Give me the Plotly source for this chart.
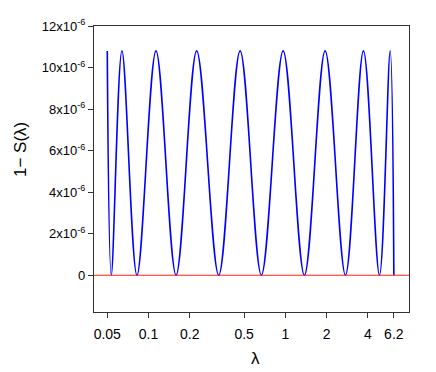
import numpy as np
import plotly.graph_objects as go

# values (extremes of 1 - S(lambda))
lam = [0.05, 0.0535, 0.064, 0.0824, 0.1135, 0.159, 0.225, 0.326, 0.467,
       0.668, 0.963, 1.377, 1.951, 2.747, 3.717, 4.867, 5.83, 6.2]
one_minus_s = [10.8e-6, 0, 10.8e-6, 0, 10.8e-6, 0, 10.8e-6, 0, 10.8e-6,
               0, 10.8e-6, 0, 10.8e-6, 0, 10.8e-6, 0, 10.8e-6, 0]

x_ticks = [0.05, 0.1, 0.2, 0.5, 1, 2, 4, 6.2]
x_labels = ['0.05', '0.1', '0.2', '0.5', '1', '2', '4', '6.2']
y_ticks = [0, 2e-6, 4e-6, 6e-6, 8e-6, 10e-6, 12e-6]
y_labels = ['0'] + ['%dx10<sup>-6</sup>' % v for v in [2, 4, 6, 8, 10, 12]]

# the page body has an 8px margin, so the figure is a bit smaller than the window
W, H = 428, 364
L, R, T, B = 86, 27, 18, 60
pw, ph = W - L - R, H - T - B

fig = go.Figure()
fig.add_hline(y=0, line=dict(color='#ff2020', width=1.2))
fig.add_trace(go.Scatter(x=lam, y=one_minus_s, mode='lines',
                         line=dict(color='#0000ff', width=1.6, shape='spline', smoothing=1),
                         showlegend=False))

axis_style = dict(showline=True, linecolor='#333333', linewidth=1.2, mirror=True,
                  showgrid=False, zeroline=False, ticks='outside', ticklen=5,
                  tickcolor='#333333', automargin=False,
                  tickfont=dict(size=14, color='black'))

fig.update_layout(
    width=W, height=H,
    margin=dict(l=L, r=R, t=T, b=B),
    plot_bgcolor='white', paper_bgcolor='white',
    font=dict(family='Liberation Sans, Arial, sans-serif', color='black'),
    xaxis=dict(type='log', range=[np.log10(0.04), np.log10(8)],
               tickvals=x_ticks, ticktext=x_labels, ticklabelstandoff=4, **axis_style),
    yaxis=dict(range=[-1.77e-6, 12e-6], tickvals=y_ticks, ticktext=y_labels,
               **axis_style),
)
fig.update_yaxes(tickfont=dict(size=13))

# axis titles as annotations so they sit where the reference has them
fig.add_annotation(text='λ', xref='paper', yref='paper',
                   x=(256 - 8 - L) / pw, y=-(358 - 8 - T - ph) / ph,
                   xanchor='center', yanchor='middle',
                   showarrow=False, font=dict(size=17))
fig.add_annotation(text='1− S(λ)', xref='paper', yref='paper', textangle=-90,
                   x=(20 - 8 - L) / pw, y=1 - (150 - 8 - T) / ph,
                   xanchor='center', yanchor='middle',
                   showarrow=False, font=dict(size=17))

fig.write_html("out.html")
